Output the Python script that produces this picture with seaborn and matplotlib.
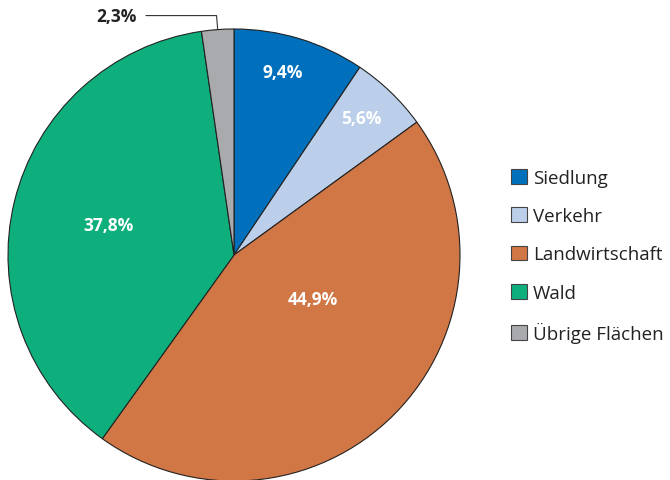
import numpy as np
import seaborn as sns
import matplotlib.pyplot as plt
from matplotlib.patches import Patch

# data
categories = ["Siedlung", "Verkehr", "Landwirtschaft", "Wald", "Übrige Flächen"]
shares = [9.4, 5.6, 44.9, 37.8, 2.3]
share_labels = ["9,4%", "5,6%", "44,9%", "37,8%", "2,3%"]
colors = ["#0070BD", "#BBCFEB", "#D17645", "#0EAF7D", "#A9AAAD"]

sns.set_style("white")
plt.rcParams["font.family"] = ["Open Sans", "DejaVu Sans"]

fig = plt.figure(figsize=(6.70, 4.81), dpi=100)
# pie axes placed so centre ~ (234, 256) px, radius ~226 px
W, H = 670, 481
r_px = 226
cx, cy = 234, H - 256
ax = fig.add_axes([(cx - r_px) / W, (cy - r_px) / H, 2 * r_px / W, 2 * r_px / H])

wedges, _ = ax.pie(shares, colors=colors, startangle=90, counterclock=False,
                   radius=1, wedgeprops=dict(edgecolor="#222222", linewidth=0.8))
ax.set_xlim(-1, 1)
ax.set_ylim(-1, 1)
ax.set_aspect("equal")
ax.axis("off")

# inner labels: (radius, angle offset) relative to wedge middle
label_place = [(0.84, 2), (0.83, 1), (0.40, 16), (0.57, 0)]
for w, lab, (rr, off) in zip(wedges[:4], share_labels[:4], label_place):
    mid = np.deg2rad((w.theta1 + w.theta2) / 2 + off)
    ax.text(rr * np.cos(mid), rr * np.sin(mid), lab, color="white",
            fontsize=12.5, fontweight="bold", ha="center", va="center")

# outside label for the small slice with leader line
w = wedges[4]
mid = np.deg2rad((w.theta1 + w.theta2) / 2)
ex, ey = np.cos(mid), np.sin(mid)
ty = ey + 0.062
ax.plot([ex, ex - 0.005, -0.39], [ey, ty, ty], color="#333333", lw=0.8,
        clip_on=False)
ax.text(-0.43, ty, share_labels[4], color="#222222", fontsize=12.5,
        fontweight="bold", ha="right", va="center")

handles = [Patch(facecolor=c, edgecolor="#444444", linewidth=0.8) for c in colors]
fig.legend(handles, categories, loc="center left", bbox_to_anchor=(494 / W, 1 - 257 / H),
           frameon=False, fontsize=13.5, handlelength=0.85, handleheight=0.85,
           handletextpad=0.32, labelspacing=1.08, labelcolor="#222222")

fig.savefig("out.png", dpi=100)
